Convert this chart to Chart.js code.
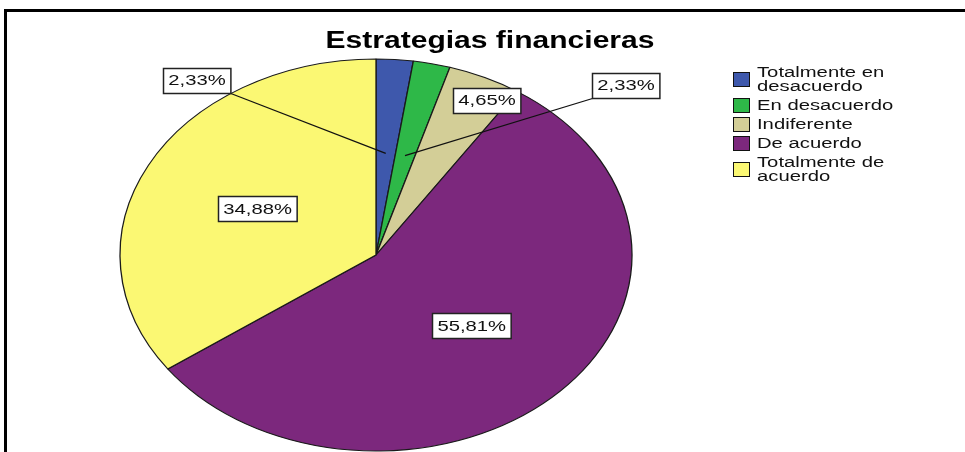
<!DOCTYPE html>
<html>
<head>
<meta charset="utf-8">
<script src="https://cdn.jsdelivr.net/npm/chart.js@4"></script>
<style>
  html, body { margin: 0; padding: 0; background: #fff; }
  canvas { display: block; }
</style>
</head>
<body>
<canvas id="pieChart" width="965" height="452"></canvas>
<script>
// categories (legend lines) and percentages
const categories = [
  ['Totalmente en', 'desacuerdo'],
  ['En desacuerdo'],
  ['Indiferente'],
  ['De acuerdo'],
  ['Totalmente de', 'acuerdo']
];
const percents = [2.33, 2.33, 4.65, 55.81, 34.88];
const colors = ['#3E58AC', '#2EB848', '#D3CE97', '#7C287D', '#FBF873'];
const title = 'Estrategias financieras';

// the SPSS picture is stretched sideways
const SX = 1.306;
const FONT = '"Liberation Sans", Arial, sans-serif';

// callout boxes for the small slices (null = inside the slice)
const calloutAt = [[197, 80], [626, 85], [487, 100], null, null];

function fmt(v) {
  return v.toFixed(2).replace('.', ',') + '%';
}

function stretchedText(ctx, txt, x, y, font, align) {
  ctx.save();
  ctx.font = font;
  ctx.textAlign = align || 'left';
  ctx.textBaseline = 'middle';
  ctx.translate(x, y);
  ctx.scale(SX, 1);
  ctx.fillText(txt, 0, 0);
  ctx.restore();
}

const squash = {
  id: 'squash',
  beforeDatasetsDraw(chart) {
    const a = chart.getDatasetMeta(0).data[0];
    const ctx = chart.ctx;
    ctx.save();
    ctx.translate(a.x, a.y);
    ctx.scale(SX, 1);
    ctx.translate(-a.x, -a.y);
  },
  afterDatasetsDraw(chart) {
    chart.ctx.restore();
  }
};

const decor = {
  id: 'decor',
  afterDraw(chart) {
    const ctx = chart.ctx;
    ctx.save();
    // frame
    ctx.fillStyle = '#000';
    ctx.fillRect(4, 9, 965, 3);
    ctx.fillRect(4, 9, 3, 452);

    // title
    ctx.fillStyle = '#000';
    stretchedText(ctx, title, 490, 42, 'bold 23px ' + FONT, 'center');

    // legend
    const lf = '15.5px ' + FONT;
    let y = 73;
    categories.forEach((lines, i) => {
      const h = (lines.length - 1) * 14;
      const cy = y + h / 2 - 1;
      ctx.fillStyle = colors[i];
      ctx.fillRect(733, cy - 7, 17, 14);
      ctx.strokeStyle = '#111';
      ctx.lineWidth = 1;
      ctx.strokeRect(733.5, cy - 6.5, 16, 14);
      ctx.fillStyle = '#111';
      lines.forEach((ln, k) => stretchedText(ctx, ln, 757, y + k * 14, lf));
      y += h + 19;
    });

    // data labels
    const meta = chart.getDatasetMeta(0);
    ctx.font = '15.5px ' + FONT;
    meta.data.forEach((arc, i) => {
      const mid = (arc.startAngle + arc.endAngle) / 2;
      const r = arc.outerRadius * 0.52;
      const ax = arc.x + Math.cos(mid) * r * SX;
      const ay = arc.y + Math.sin(mid) * r;
      const txt = fmt(percents[i]);
      const w = ctx.measureText(txt).width * SX + 10;
      const hgt = 25;
      let bx = ax, by = ay;
      if (calloutAt[i]) { bx = calloutAt[i][0]; by = calloutAt[i][1]; }
      const left = Math.round(bx - w / 2) + 0.5;
      const top = Math.round(by - hgt / 2) + 0.5;
      if (calloutAt[i] && i < 2) {
        const cx = ax < bx ? left : left + w;
        const cyy = top + hgt;
        ctx.strokeStyle = '#111';
        ctx.lineWidth = 1.3;
        ctx.beginPath();
        ctx.moveTo(cx, cyy);
        ctx.lineTo(ax, ay);
        ctx.stroke();
      }
      ctx.fillStyle = '#fff';
      ctx.fillRect(left, top, w, hgt);
      ctx.strokeStyle = '#222';
      ctx.lineWidth = 1.5;
      ctx.strokeRect(left, top, w, hgt);
      ctx.fillStyle = '#111';
      stretchedText(ctx, txt, bx, by + 1, '15.5px ' + FONT, 'center');
    });
    ctx.restore();
  }
};

const ctxP = document.getElementById('pieChart').getContext('2d');
const pieChart = new Chart(ctxP, {
  type: 'pie',
  data: {
    labels: categories,
    datasets: [{
      data: percents,
      backgroundColor: colors,
      borderColor: '#1a1a1a',
      borderWidth: 1,
      radius: 196
    }]
  },
  options: {
    responsive: false,
    animation: false,
    devicePixelRatio: 1,
    layout: { padding: { left: 178, right: 391, top: 58, bottom: 0 } },
    plugins: {
      legend: { display: false },
      title: { display: false },
      tooltip: { enabled: false }
    }
  },
  plugins: [squash, decor]
});
</script>
</body>
</html>
